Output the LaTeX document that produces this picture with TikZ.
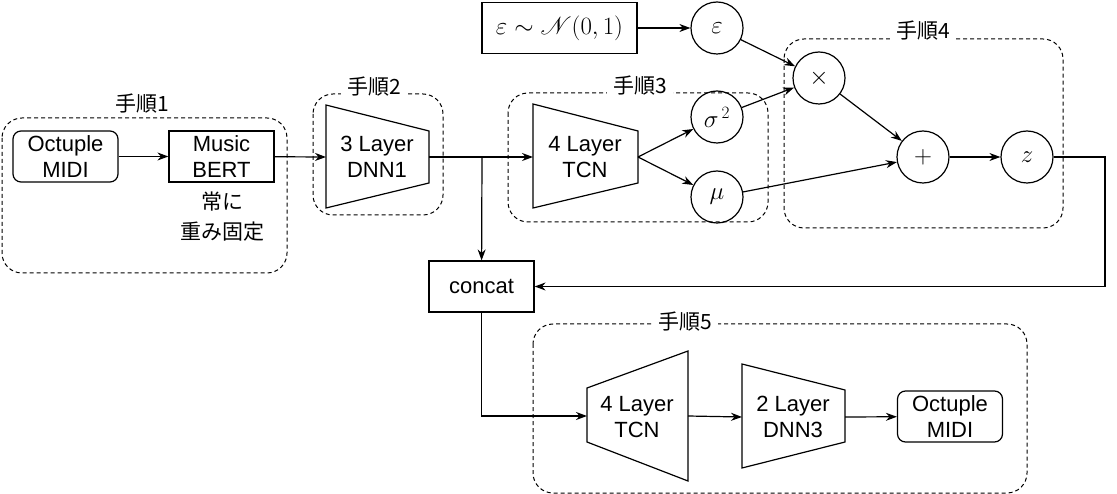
\documentclass[tikz,border=0pt]{standalone}
\usepackage{fontspec}
\usepackage{mathrsfs}
\setmainfont{Liberation Sans}
\newfontfamily\jp{Noto Sans CJK JP}
\usetikzlibrary{arrows.meta}
\begin{document}
\begin{tikzpicture}[x=1pt,y=-1pt,
  fs/.style={font=\fontsize{22}{26}\selectfont},
  box/.style={draw, line width=1.2, minimum width=105, minimum height=51, align=center, inner sep=0, fs},
  rbox/.style={box, rounded corners=8},
  txt/.style={align=center, inner sep=0, fs},
  jtxt/.style={align=center, inner sep=1, font=\jp\fontsize{21}{30}\selectfont},
  glabel/.style={jtxt, fill=white, inner xsep=6},
  circ/.style={draw, circle, minimum size=52, inner sep=0, line width=1.2, font=\fontsize{25}{28}\selectfont},
  grp/.style={draw, dash pattern=on 4 off 3, rounded corners=20, line width=1},
  trap/.style={draw, line width=1.2},
  arr/.style={-{Stealth[length=11,width=8]}, line width=1.2},
  ln/.style={line width=1.2}]
\useasboundingbox (0,0) rectangle (1117,494);

% groups
\draw[grp] (2,118) rectangle (287,273);
\node[glabel] (g1) at (142,104) {手順1};
\draw[grp] (313,94) rectangle (443,215);
\node[glabel] (g2) at (374,87) {手順2};
\draw[grp] (508,93) rectangle (768,222);
\node[glabel] (g3) at (640,86) {手順3};
\draw[grp] (784,39) rectangle (1063,228);
\node[glabel] (g4) at (923,31) {手順4};
\draw[grp] (533,324) rectangle (1027,493);
\node[glabel] (g5) at (685,322) {手順5};

% step 1
\node[rbox] (midi1) at (65.5,156.5) {Octuple\\MIDI};
\node[box] (bert) at (221.5,156.5) {Music\\BERT};
\node[jtxt] (fixed) at (222,217) {常に\\重み固定};

% step 2
\draw[trap] (326,105) -- (429,131) -- (429,183) -- (326,208) -- cycle;
\node[txt] (dnn1) at (377,157) {3 Layer\\DNN1};
\coordinate (dnn1w) at (326,157);
\coordinate (dnn1e) at (429,157);

% step 3
\draw[trap] (533,104) -- (638,131) -- (638,183) -- (533,208) -- cycle;
\node[txt] (tcn1) at (585,157) {4 Layer\\TCN};
\coordinate (tcn1w) at (533,157);
\coordinate (tcn1e) at (638,157);
\node[circ] (sig) at (717,117) {$\sigma^{\,2}$};
\node[circ] (mu) at (717,197) {$\mu$};

% noise
\node[draw, line width=1.2, minimum width=155, minimum height=51, inner sep=0, font=\fontsize{27}{30}\selectfont] (nbox) at (559.5,28) {$\varepsilon\sim\mathscr{N}(0,1)$};
\node[circ] (eps) at (717,28) {$\varepsilon$};

% step 4
\node[circ] (mul) at (819,78) {$\times$};
\node[circ] (add) at (923,157) {$+$};
\node[circ] (z) at (1027,157) {$z$};
\coordinate (zr) at (1105,157);

% concat
\node[box] (concat) at (481.5,286.5) {concat};
\coordinate (j) at (482,157);

% step 5
\draw[trap] (587,388) -- (688,351) -- (688,481) -- (587,442) -- cycle;
\node[txt] (tcn2) at (637,417) {4 Layer\\TCN};
\coordinate (tcn2w) at (587,416);
\coordinate (tcn2e) at (688,416);
\draw[trap] (742,364) -- (845,390) -- (845,442) -- (742,468) -- cycle;
\node[txt] (dnn3) at (793,417) {2 Layer\\DNN3};
\coordinate (dnn3w) at (742,417);
\coordinate (dnn3e) at (845,417);
\node[rbox] (midi2) at (950,416.5) {Octuple\\MIDI};

% connectors
\draw[arr] (midi1) -- (bert);
\draw[arr] (bert) -- (dnn1w);
\draw[arr] (dnn1e) -- (tcn1w);
\draw[arr] (j) -- (concat);
\draw[arr] (tcn1e) -- (sig);
\draw[arr] (tcn1e) -- (mu);
\draw[arr] (nbox) -- (eps);
\draw[arr] (eps) -- (mul);
\draw[arr] (sig) -- (mul);
\draw[arr] (mul) -- (add);
\draw[arr] (mu) -- (add);
\draw[arr] (add) -- (z);
\draw[arr] (z) -- (zr) |- (concat.east);
\draw[arr] (concat.south) |- (tcn2w);
\draw[arr] (tcn2e) -- (dnn3w);
\draw[arr] (dnn3e) -- (midi2);
\end{tikzpicture}
\end{document}
